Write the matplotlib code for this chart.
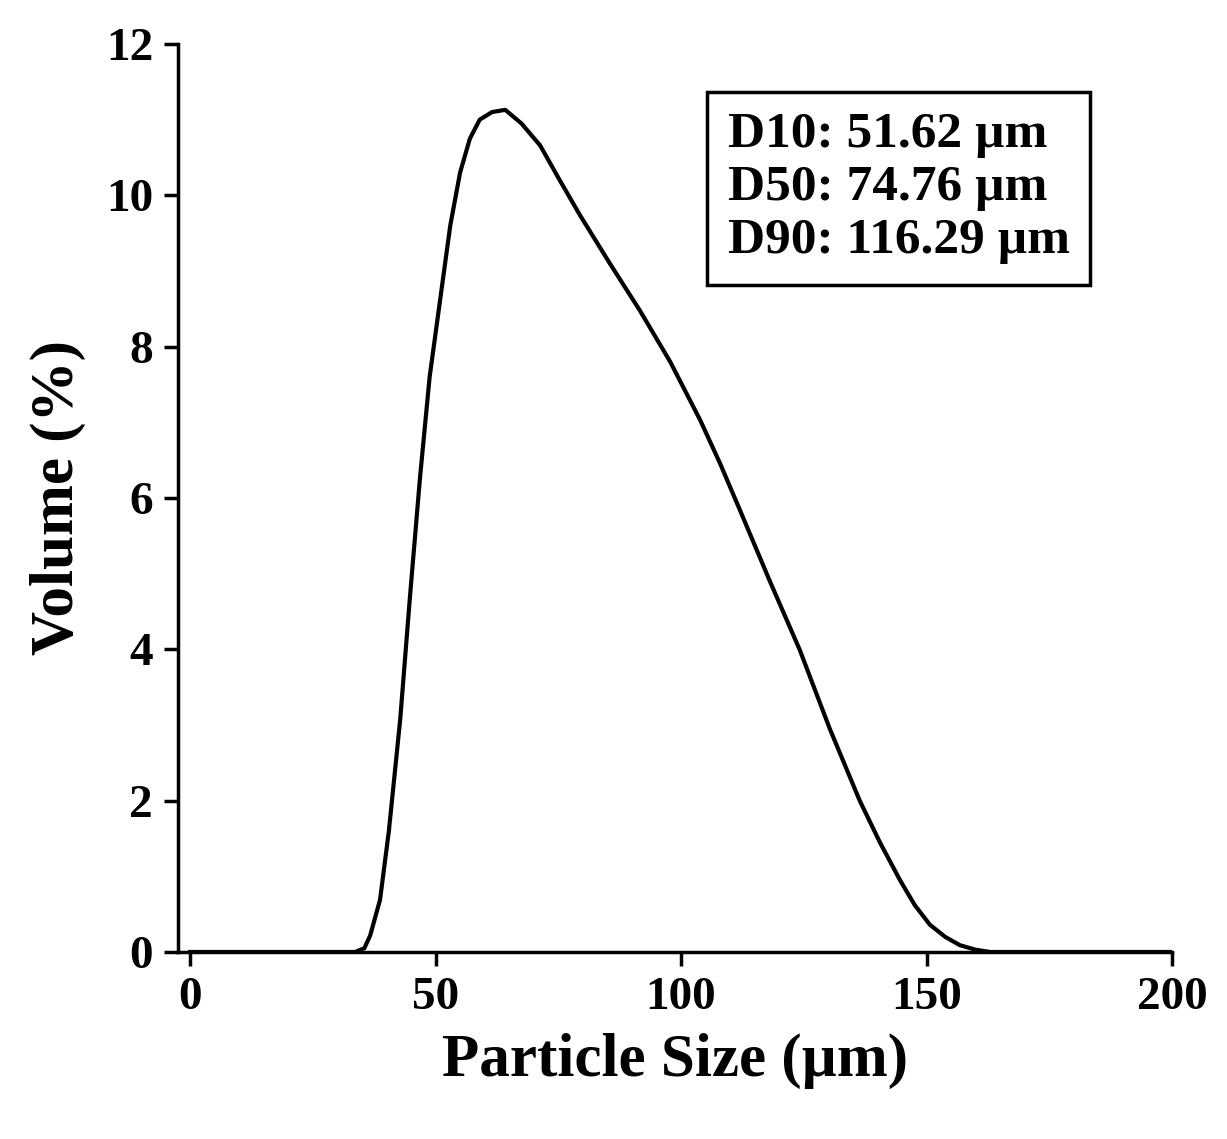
import matplotlib
matplotlib.use("Agg")
import matplotlib.pyplot as plt

size_um = [0, 30, 33.6, 35.5, 36.7, 38.7, 40.5, 42.8, 44.8, 46.8, 48.8, 50.9, 53.0, 55.0,
           57.0, 59.0, 61.5, 64.2, 67.5, 71.3, 75.3, 79.4, 85.5, 91.6, 97.8, 103.9, 108.0,
           112.0, 118.1, 124.2, 130.3, 136.4, 140.5, 144.6, 147.6, 150.7, 153.8, 156.8,
           160.0, 163.0, 200]
volume = [0, 0, 0, 0.05, 0.22, 0.69, 1.6, 3.07, 4.7, 6.24, 7.6, 8.6, 9.6, 10.3,
          10.75, 11.0, 11.1, 11.13, 10.95, 10.66, 10.2, 9.74, 9.1, 8.48, 7.8, 7.03, 6.45,
          5.84, 4.9, 3.99, 2.95, 2.0, 1.45, 0.95, 0.62, 0.36, 0.2, 0.09, 0.03, 0, 0]

d_labels = ["D10: 51.62 \u00b5m", "D50: 74.76 \u00b5m", "D90: 116.29 \u00b5m"]

plt.rcParams['font.family'] = ['Liberation Serif', 'DejaVu Serif']
plt.rcParams['font.weight'] = 'bold'

fig = plt.figure(figsize=(12.27, 11.39), dpi=100)
ax = fig.add_axes([178/1227, 1 - 952/1139, (1172-178)/1227, (952-44)/1139])
ax.plot(size_um, volume, color='black', lw=3, solid_joinstyle='round')
ax.set_xlim(-2.45, 200)
ax.set_ylim(0, 12)
ax.set_xticks([0, 50, 100, 150, 200])
ax.set_yticks(range(0, 13, 2))
ax.tick_params(labelsize=34, width=2.5, length=10, direction='out', pad=8)
for s in ax.spines.values():
    s.set_linewidth(2.5)
ax.spines['top'].set_visible(False)
ax.spines['right'].set_visible(False)
ax.set_xlabel("Particle Size (\u00b5m)", fontsize=44, fontweight='bold', labelpad=10)
ax.set_ylabel("Volume (%)", fontsize=44, fontweight='bold', labelpad=14)
ax.text(0.553, 0.925, "\n".join(d_labels), transform=ax.transAxes, fontsize=37,
        fontweight='bold', va='top', ha='left', linespacing=1.2,
        bbox=dict(boxstyle='square,pad=0.4', fc='white', ec='black', lw=2.5))
fig.savefig("out.png", dpi=100)
